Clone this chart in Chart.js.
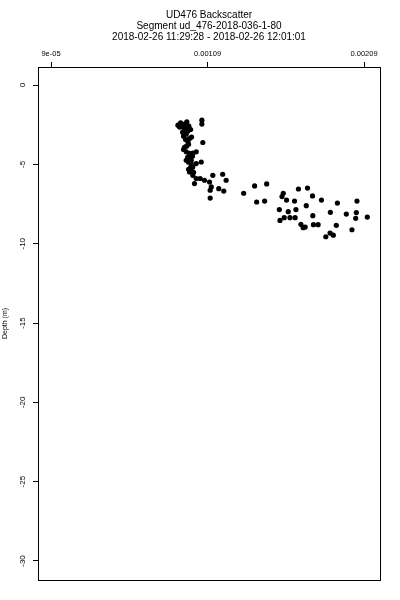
<!DOCTYPE html>
<html>
<head>
<meta charset="utf-8">
<script src="https://cdn.jsdelivr.net/npm/chart.js@4/dist/chart.umd.min.js"></script>
<style>
html,body{margin:0;padding:0;background:#fff;}
#c{display:block;}
</style>
</head>
<body>
<canvas id="c" width="400" height="600"></canvas>
<script>
const titleLines = [
  "UD476 Backscatter",
  "Segment ud_476-2018-036-1-80",
  "2018-02-26 11:29:28 - 2018-02-26 12:01:01"
];
const yAxisTitle = "Depth (m)";

const backscatter = [
  0.000901,0.000918,0.000933,0.000958,0.000971,0.000982,0.000965,0.000943,0.000937,0.000954,
  0.000950,0.000965,0.000975,0.000988,0.000937,0.000954,0.000975,0.000996,0.001018,0.000954,
  0.000986,0.000986,0.000996,0.001018,0.001050,0.000975,0.000996,0.001018,0.001007,0.001043,
  0.001071,0.001103,0.001124,0.001187,0.001209,0.001114,0.001107,0.001162,0.001194,0.001107,
  0.001054,0.001054,0.001060,0.000963,0.000975,0.000969,0.000982,0.000969,0.000988,0.001001,
  0.000994,0.000956,0.000969,0.000943,0.000931,0.000943,0.000912,0.000950,
  0.001321,0.001391,0.001468,0.001404,0.001455,0.001574,0.001566,0.001595,0.001646,0.001671,
  0.001729,0.001761,0.001818,0.001721,0.001920,0.002045,0.001549,0.001606,0.001655,0.001553,
  0.001580,0.001617,0.001650,0.001763,0.001875,0.001977,0.002041,0.002037,0.002111,0.001687,
  0.001701,0.001714,0.001767,0.001797,0.001913,0.002013,0.001846,0.001873,0.001894
];
const depth = [
  -2.53,-2.38,-2.63,-2.32,-2.59,-2.80,-2.89,-2.84,-3.22,-3.10,
  -3.43,-3.58,-3.37,-3.28,-4.06,-4.21,-4.31,-4.28,-4.21,-4.74,
  -4.74,-4.95,-5.16,-4.95,-4.85,-5.48,-5.69,-5.89,-6.21,-5.89,
  -6.00,-6.11,-5.69,-5.62,-6.00,-6.42,-6.63,-6.53,-6.68,-7.12,
  -2.21,-2.46,-3.62,-4.55,-4.61,-4.86,-5.18,-5.31,-5.37,-5.50,
  -4.48,-3.85,-3.73,-3.92,-2.97,-2.46,-2.65,-2.72,
  -6.82,-6.36,-6.23,-7.37,-7.31,-6.82,-7.03,-7.25,-7.31,-6.55,
  -6.49,-6.99,-7.25,-7.60,-7.44,-7.31,-7.85,-7.98,-7.85,-8.53,
  -8.36,-8.36,-8.36,-8.23,-8.02,-8.13,-8.04,-8.40,-8.32,-8.78,
  -8.99,-8.95,-8.80,-8.80,-8.84,-9.12,-9.56,-9.33,-9.46
];

const xTickValues = [0.00009, 0.00109, 0.00209];
const xTickLabels = ["9e-05", "0.00109", "0.00209"];
const yTickValues = [0, -5, -10, -15, -20, -25, -30];
const yTickLabels = ["0", "-5", "-10", "-15", "-20", "-25", "-30"];
const xRange = [0.0000069, 0.0021922];
const yRange = [-31.2, 1.14];

const FONT = "'Liberation Sans Narrow', 'Liberation Sans', Arial, sans-serif";

const framePlugin = {
  id: 'frame',
  beforeDraw(chart) {
    const ctx = chart.ctx;
    ctx.save();
    ctx.fillStyle = '#fff';
    ctx.fillRect(0, 0, chart.width, chart.height);
    ctx.restore();
  },
  afterDraw(chart) {
    const a = chart.chartArea;
    const ctx = chart.ctx;
    ctx.save();
    ctx.strokeStyle = '#000';
    ctx.lineWidth = 1;
    ctx.strokeRect(a.left + 0.5, a.top + 0.5, a.right - a.left, a.bottom - a.top);
    ctx.fillStyle = '#000';
    ctx.font = "10px 'Liberation Sans', Arial, sans-serif";
    ctx.textAlign = 'center';
    ctx.textBaseline = 'middle';
    const cx = (a.left + a.right) / 2;
    const ys = [15.5, 26.5, 37];
    titleLines.forEach((t, i) => ctx.fillText(t, cx, ys[i]));
    ctx.restore();
  }
};

const points = backscatter.map((v, i) => ({ x: v, y: depth[i] }));

new Chart(document.getElementById('c'), {
  type: 'scatter',
  data: {
    datasets: [{
      data: points,
      pointRadius: 2.6,
      pointBorderWidth: 0,
      pointBackgroundColor: '#000',
      pointBorderColor: '#000'
    }]
  },
  options: {
    responsive: false,
    devicePixelRatio: 1,
    animation: false,
    layout: { padding: { left: 0, right: 20, top: 0, bottom: 20 } },
    plugins: { legend: { display: false }, tooltip: { enabled: false }, title: { display: false } },
    scales: {
      x: {
        type: 'linear',
        position: 'top',
        min: xRange[0],
        max: xRange[1],
        afterBuildTicks: (s) => { s.ticks = xTickValues.map(v => ({ value: v })); },
        afterFit: (s) => { s.height = 67; },
        grid: { display: true, drawOnChartArea: false, drawTicks: true, tickLength: 5, color: '#000', lineWidth: 1 },
        border: { display: false },
        ticks: {
          autoSkip: false,
          maxRotation: 0,
          minRotation: 0,
          padding: 4,
          color: '#000',
          font: { family: FONT, size: 7.5 },
          callback: (v, i) => xTickLabels[i]
        }
      },
      y: {
        type: 'linear',
        position: 'left',
        min: yRange[0],
        max: yRange[1],
        afterBuildTicks: (s) => { s.ticks = yTickValues.map(v => ({ value: v })); },
        afterFit: (s) => { s.width = 38; },
        grid: { display: true, drawOnChartArea: false, drawTicks: true, tickLength: 5, color: '#000', lineWidth: 1 },
        border: { display: false },
        title: {
          display: true,
          text: yAxisTitle,
          color: '#000',
          font: { family: FONT, size: 7 },
          padding: { top: 1, bottom: 0 }
        },
        ticks: {
          autoSkip: false,
          minRotation: 90,
          maxRotation: 90,
          crossAlign: 'center',
          padding: 4,
          color: '#000',
          font: { family: FONT, size: 8 },
          callback: (v, i) => yTickLabels[i]
        }
      }
    }
  },
  plugins: [framePlugin]
});
</script>
</body>
</html>
